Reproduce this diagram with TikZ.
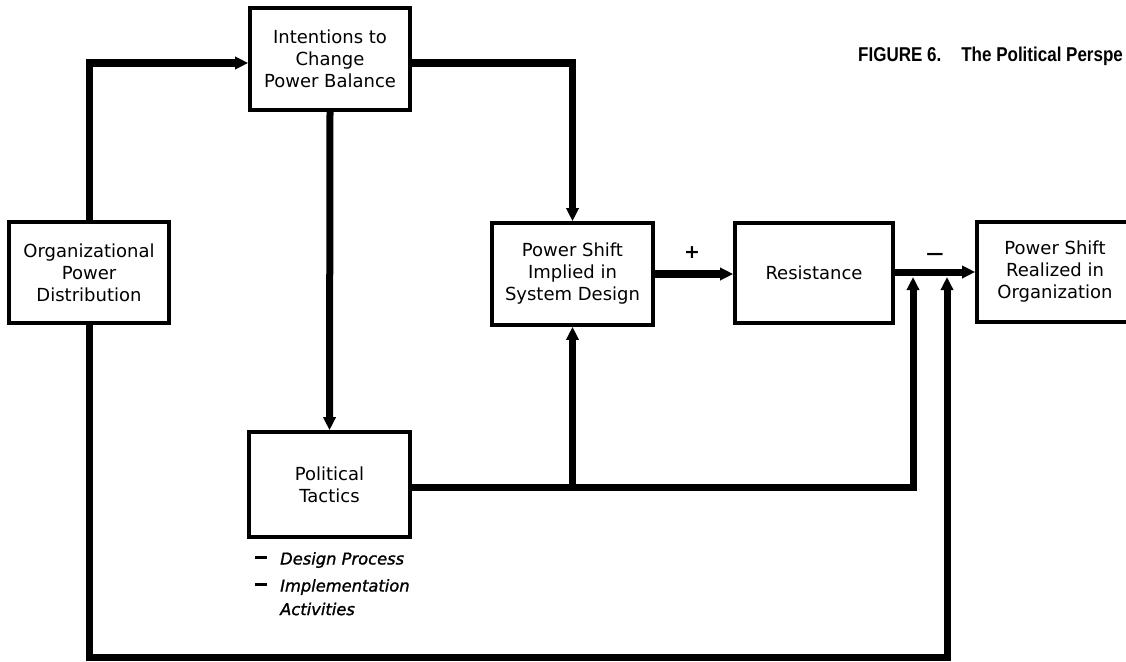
\documentclass[tikz,border=0pt]{standalone}
\usepackage{fontspec}
\setmainfont{DejaVu Sans}
\newfontfamily\notefont{DejaVu Sans}[ItalicFeatures={FakeBold=1.3}]
\newfontfamily\capfont[FakeStretch=0.85]{Liberation Sans}
\usetikzlibrary{arrows.meta}
\tikzset{
  blockbox/.style={draw, line width=3.6pt, rectangle, inner sep=0pt, align=center,
    font=\fontsize{18}{22}\selectfont},
  conn/.style={line width=7pt, line join=miter, line cap=butt,
    -{Triangle[length=13pt,width=12pt]}},
  signlabel/.style={font=\fontsize{19}{22}\selectfont\bfseries, inner sep=0pt},
  note/.style={font=\notefont\itshape\fontsize{16.3}{20}\selectfont, inner sep=0pt, anchor=west}
}
\begin{document}
\begin{tikzpicture}[x=1pt, y=-1pt]
\useasboundingbox (0,0) rectangle (1126,661);

% blocks
\node[blockbox, minimum width=160pt, minimum height=102pt] (intent) at (330,59)
  {Intentions to\\Change\\Power Balance};
\node[blockbox, minimum width=160pt, minimum height=101pt] (org) at (89,272.5)
  {Organizational\\Power\\Distribution};
\node[blockbox, minimum width=161pt, minimum height=102pt] (psi) at (572.5,274)
  {Power Shift\\Implied in\\System Design};
\node[blockbox, minimum width=158pt, minimum height=100pt] (res) at (814,273)
  {Resistance};
\node[blockbox, minimum width=156pt, minimum height=100pt] (psr) at (1055,272)
  {Power Shift\\Realized in\\Organization};
\node[blockbox, minimum width=161pt, minimum height=105pt] (pt) at (329.5,484.5)
  {Political\\Tactics};

% free ends of the feedback paths
\coordinate (tapA) at (913,277);
\coordinate (tapB) at (947,277);
\coordinate (loop) at (947,657);

% connectors
\draw[conn] (org.north) |- ([yshift=-4pt]intent.west);
\draw[conn] ([yshift=-4pt]intent.east) -| (psi.north);
\draw[conn] (intent.south) -- (pt.north);
\draw[conn, line width=8.5pt] (psi.east) -- (psi.east -| res.west);
\draw[conn] ([yshift=1pt]res.east) -- ([yshift=1pt]res.east -| psr.west);
\draw[conn] ([yshift=-2.5pt]pt.east) -| (tapA);
\draw[conn] ([yshift=-2.5pt]pt.east -| psi.south) -- (psi.south);
\draw[conn] (org.south) |- (loop) -- (tapB);

% signs
\node[signlabel] (plus) at (692,253) {+};
\node[signlabel] (minus) at (935,257) {\scalebox{1.3}[1]{−}};

% tactics list
\node[note] (d1) at (255,560) {\rule[0.32em]{12pt}{2.4pt}};
\node[note] (t1) at (280,560) {Design Process};
\node[note] (d2) at (255,587) {\rule[0.32em]{12pt}{2.4pt}};
\node[note] (t2) at (280,587) {Implementation};
\node[note] (t3) at (280,609) {Activities};

% caption
\node[font=\capfont\bfseries\fontsize{20}{24}\selectfont, anchor=west, inner sep=0pt]
  (cap) at (858,56) {FIGURE 6.\hspace{20pt}The Political Perspe};
\end{tikzpicture}
\end{document}
